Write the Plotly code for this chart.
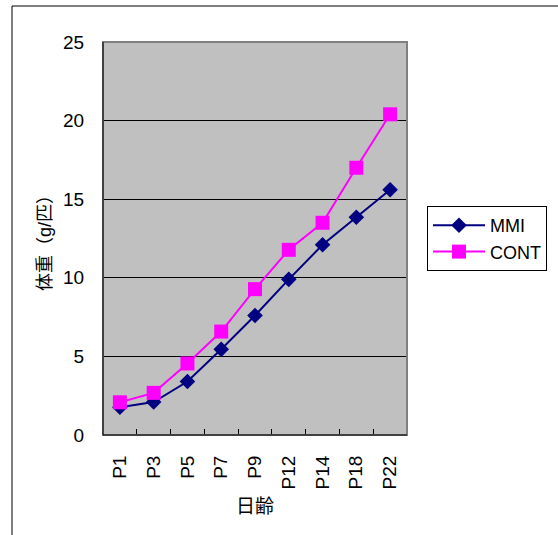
import plotly.graph_objects as go

categories = ["P1", "P3", "P5", "P7", "P9", "P12", "P14", "P18", "P22"]
mmi = [1.77, 2.1, 3.4, 5.45, 7.6, 9.9, 12.1, 13.85, 15.6]
cont = [2.08, 2.68, 4.55, 6.58, 9.28, 11.78, 13.5, 17.0, 20.4]
y_ticks = [0, 5, 10, 15, 20, 25]

W, H = 558, 535
L, R, T, B = 103, 151, 42, 100
pw, ph = W - L - R, H - T - B

FONT = "Liberation Sans, Arial, sans-serif"
CJK = "Liberation Sans, Noto Sans CJK JP, sans-serif"

fig = go.Figure()
fig.add_trace(go.Scatter(
    x=categories, y=mmi, name="MMI", mode="lines+markers",
    line=dict(color="#000080", width=2),
    marker=dict(symbol="diamond", size=12, color="#000080"),
))
fig.add_trace(go.Scatter(
    x=categories, y=cont, name="CONT", mode="lines+markers",
    line=dict(color="#FF00FF", width=2),
    marker=dict(symbol="square", size=14, color="#FF00FF"),
))

fig.update_layout(
    width=W, height=H,
    margin=dict(l=L, r=R, t=T, b=B, pad=0, autoexpand=False),
    paper_bgcolor="white", plot_bgcolor="#C0C0C0",
    font=dict(family=FONT, size=19, color="black"),
    showlegend=True,
    legend=dict(
        x=(427 - L) / pw, y=1 - (206 - T) / ph, xanchor="left", yanchor="top",
        bgcolor="white", bordercolor="black", borderwidth=1,
        font=dict(family=FONT, size=18), tracegroupgap=0,
        itemwidth=52,
    ),
    xaxis=dict(
        type="category", tickangle=-90, tickfont=dict(family=FONT, size=19),
        ticks="inside", tickson="boundaries", ticklen=6, tickcolor="black",
        ticklabelstandoff=12,
        showline=True, linecolor="black", linewidth=1, showgrid=False,
        title=dict(text="日齢", font=dict(family=CJK, size=19), standoff=11),
        range=[-0.5, 8.5],
    ),
    yaxis=dict(
        range=[0, 25], tickvals=y_ticks, tickfont=dict(family=FONT, size=19),
        ticks="inside", ticklen=5, tickcolor="black",
        ticklabelstandoff=14,
        showline=True, linecolor="black", linewidth=1,
        showgrid=True, gridcolor="black", gridwidth=1, zeroline=False,
        title=dict(text="体重（g/匹）", font=dict(family=CJK, size=18), standoff=6),
    ),
    shapes=[
        dict(type="rect", xref="paper", yref="paper",
             x0=(12 - L) / pw, x1=(W + 20 - L) / pw,
             y0=-(H + 20 - (T + ph)) / ph, y1=1 + (T - 6) / ph,
             line=dict(color="black", width=1), layer="below"),
        dict(type="rect", xref="paper", yref="paper", x0=0, x1=1, y0=0, y1=1,
             line=dict(color="#808080", width=2), layer="above"),
        dict(type="line", xref="paper", yref="paper", x0=0, x1=0, y0=0, y1=1,
             line=dict(color="black", width=1), layer="above"),
        dict(type="line", xref="paper", yref="paper", x0=0, x1=1, y0=0, y1=0,
             line=dict(color="black", width=1), layer="above"),
    ],
)

fig.write_html("out.html", config={"displayModeBar": False},
               post_script="document.body.style.margin='0';")
